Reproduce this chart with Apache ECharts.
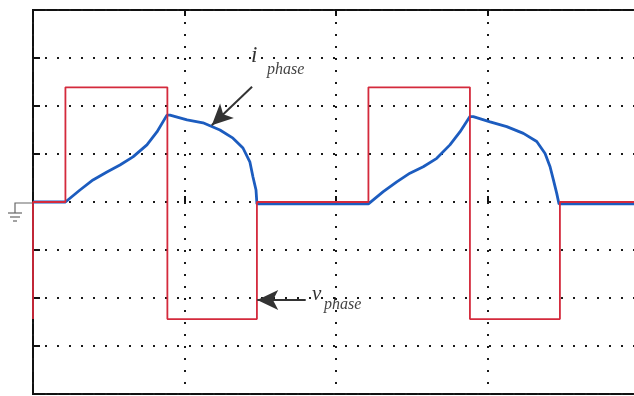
<!DOCTYPE html>
<html>
<head>
<meta charset="utf-8">
<script src="https://cdn.jsdelivr.net/npm/echarts@6/dist/echarts.min.js"></script>
<style>html,body{margin:0;padding:0;background:#fff;overflow:hidden;}#c{width:634px;height:396px;}</style>
</head>
<body>
<div id="c"></div>
<script>
// Phase voltage (red square wave): [time (div), value (div)]
const vPhase = [
  [0, -2.44], [0, 0], [0.214, 0], [0.214, 2.39], [0.887, 2.39], [0.887, -2.44],
  [1.478, -2.44], [1.478, 0], [2.214, 0], [2.214, 2.39], [2.884, 2.39], [2.884, -2.44],
  [3.478, -2.44], [3.478, 0], [4, 0]
];
// Phase current (blue)
const iPhase = [
  [0, 0], [0.214, 0], [0.222, 0.04], [0.31, 0.25], [0.396, 0.46], [0.488, 0.625],
  [0.574, 0.77], [0.66, 0.94], [0.752, 1.19], [0.818, 1.46], [0.884, 1.81],
  [0.904, 1.81], [1.017, 1.71], [1.122, 1.65], [1.234, 1.5], [1.32, 1.33],
  [1.386, 1.125], [1.432, 0.83], [1.452, 0.52], [1.472, 0.25], [1.478, -0.04],
  [2.214, -0.04], [2.224, -0.03], [2.312, 0.215], [2.401, 0.42], [2.488, 0.6],
  [2.576, 0.735], [2.665, 0.91], [2.752, 1.19], [2.818, 1.46], [2.884, 1.78],
  [2.906, 1.78], [3.017, 1.67], [3.127, 1.57], [3.237, 1.43], [3.325, 1.26],
  [3.38, 1.01], [3.413, 0.735], [3.435, 0.46], [3.457, 0.18], [3.472, -0.04], [4, -0.04]
];
// Annotation arrows [from, to]
const iArrow = [[1.446, 2.4], [1.18, 1.6]];
const vArrow = [[1.8, -2.04], [1.48, -2.04]];

const chart = echarts.init(document.getElementById('c'), null, {renderer: 'canvas'});
const dotted = {type: [2, 10], width: 2, color: '#1a1a1a'};
const tick = {show: true, inside: true, length: 6, lineStyle: {color: '#111', width: 2}};
chart.setOption({
  animation: false,
  grid: {left: 33, top: 10, width: 606, height: 384, outerBoundsMode: 'none', containLabel: false,
         show: true, borderColor: '#111', borderWidth: 2, backgroundColor: 'transparent'},
  xAxis: [
    {type: 'value', min: 0, max: 4, interval: 1, position: 'bottom',
     axisLine: {show: false}, axisLabel: {show: false}, axisTick: tick,
     splitLine: {show: true, lineStyle: dotted}},
    {type: 'value', min: 0, max: 4, interval: 1, position: 'top',
     axisLine: {show: false}, axisLabel: {show: false}, axisTick: tick,
     splitLine: {show: false}}
  ],
  yAxis: {type: 'value', min: -4, max: 4, interval: 1,
    axisLine: {show: false}, axisLabel: {show: false},
    axisTick: {show: true, inside: true, length: 7, lineStyle: {color: '#111', width: 2}},
    splitLine: {show: true, lineStyle: dotted}},
  series: [
    {type: 'line', name: 'i_phase', data: iPhase, symbol: 'none', clip: false,
     lineStyle: {color: '#1c5cbf', width: 2.8}, z: 3,
     markLine: {silent: true, symbol: ['none', 'arrow'], symbolSize: [15, 21],
       label: {show: false},
       lineStyle: {color: '#333', width: 2, type: 'solid'},
       data: [[{coord: iArrow[0]}, {coord: iArrow[1]}], [{coord: vArrow[0]}, {coord: vArrow[1]}]]}},
    {type: 'line', name: 'v_phase', data: vPhase, symbol: 'none', clip: false,
     lineStyle: {color: '#d42a3c', width: 1.8}, z: 4}
  ],
  graphic: [
    {type: 'text', left: 251, top: 44, style: {text: 'i', font: 'italic 23px "Liberation Serif"', fill: '#333'}},
    {type: 'text', left: 267, top: 62, style: {text: 'phase', font: 'italic 16px "Liberation Serif"', fill: '#444'}},
    {type: 'text', left: 312, top: 284, style: {text: 'v', font: 'italic 21px "Liberation Serif"', fill: '#333'}},
    {type: 'text', left: 324, top: 297, style: {text: 'phase', font: 'italic 16px "Liberation Serif"', fill: '#444'}},
    {type: 'polyline', shape: {points: [[33, 203], [15, 203], [15, 213]]}, style: {stroke: '#666', lineWidth: 1.2, fill: null}},
    {type: 'line', shape: {x1: 8, y1: 213, x2: 22, y2: 213}, style: {stroke: '#666', lineWidth: 1.2}},
    {type: 'line', shape: {x1: 10, y1: 217, x2: 20, y2: 217}, style: {stroke: '#666', lineWidth: 1.2}},
    {type: 'line', shape: {x1: 13, y1: 221, x2: 17, y2: 221}, style: {stroke: '#666', lineWidth: 1.2}}
  ]
});
</script>
</body>
</html>
